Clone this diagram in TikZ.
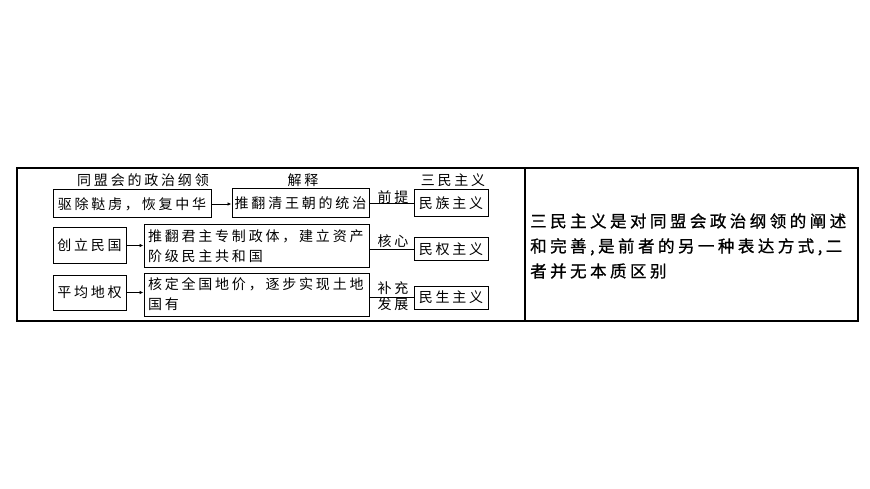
\documentclass[tikz,border=0pt]{standalone}
\usepackage{fontspec}
\usetikzlibrary{arrows.meta}
\newfontfamily\cjk[LetterSpace=20]{Noto Sans CJK SC}
\newfontfamily\cjkwide[LetterSpace=21,FakeBold=0.9]{Noto Sans CJK SC}
\begin{document}
\begin{tikzpicture}[x=1pt,y=-1pt,
  bx/.style={draw,line width=1pt,inner sep=0pt,font=\cjk\fontsize{14}{20}\selectfont},
  lbl/.style={inner sep=0pt,font=\cjk\fontsize{14}{20}\selectfont},
  arr/.style={line width=0.9pt,-{Latex[length=4pt,width=3.5pt]}},
  ln/.style={line width=0.9pt}]
\useasboundingbox (0,0) rectangle (870,489);
% frame
\draw[line width=1.2pt] (17,168) rectangle (858,321);
\draw[line width=1.2pt] (525,168) -- (525,321);
% headings
\node[lbl] (h1) at (143,180) {同盟会的政治纲领};
\node[lbl] (h2) at (303,180) {解释};
\node[lbl] (h3) at (453,180) {三民主义};
% left boxes
\node[bx,minimum width=158pt,minimum height=28pt] (L1) at (132,204) {驱除鞑虏，恢复中华};
\node[bx,minimum width=73pt,minimum height=35pt] (L2) at (89.5,245.5) {创立民国};
\node[bx,minimum width=73pt,minimum height=35pt] (L3) at (89.5,292.5) {平均地权};
% middle boxes
\node[bx,minimum width=137pt,minimum height=29pt] (M1) at (300.5,203.5) {推翻清王朝的统治};
\node[bx,minimum width=225pt,minimum height=42pt,align=left,text width=217pt,inner xsep=4pt] (M2) at (256.5,246) {推翻君主专制政体，建立资产\\阶级民主共和国};
\node[bx,minimum width=225pt,minimum height=43pt,align=left,text width=217pt,inner xsep=4pt] (M3) at (256.5,294.5) {核定全国地价，逐步实现土地\\国有};
% right boxes
\node[bx,minimum width=74pt,minimum height=27pt] (R1) at (451,203.5) {民族主义};
\node[bx,minimum width=74pt,minimum height=23pt] (R2) at (451,249) {民权主义};
\node[bx,minimum width=74pt,minimum height=23pt] (R3) at (451,297.5) {民生主义};
% arrows
\draw[arr] (L1.east) -- (L1.east -| M1.west);
\draw[arr] (L2.east) -- (L2.east -| M2.west);
\draw[arr] (L3.east) -- (L3.east -| M3.west);
% lines
\draw[ln] (M1.east |- R1.west) -- (R1.west);
\draw[ln] (M2.east |- R2.west) -- (R2.west);
\draw[ln] (M3.east |- R3.west) -- (R3.west);
% labels
\node[lbl] (t1) at (393,197) {前提};
\node[lbl] (t2) at (393,241) {核心};
\node[lbl] (t3) at (393,288) {补充};
\node[lbl] (t4) at (393,304) {发展};
% right text
\node[inner sep=0pt,anchor=west,align=left,font=\cjkwide\fontsize{16.5}{25}\selectfont] (txt) at (530,246) {三民主义是对同盟会政治纲领的阐述\\和完善,是前者的另一种表达方式,二\\者并无本质区别};
\end{tikzpicture}
\end{document}
